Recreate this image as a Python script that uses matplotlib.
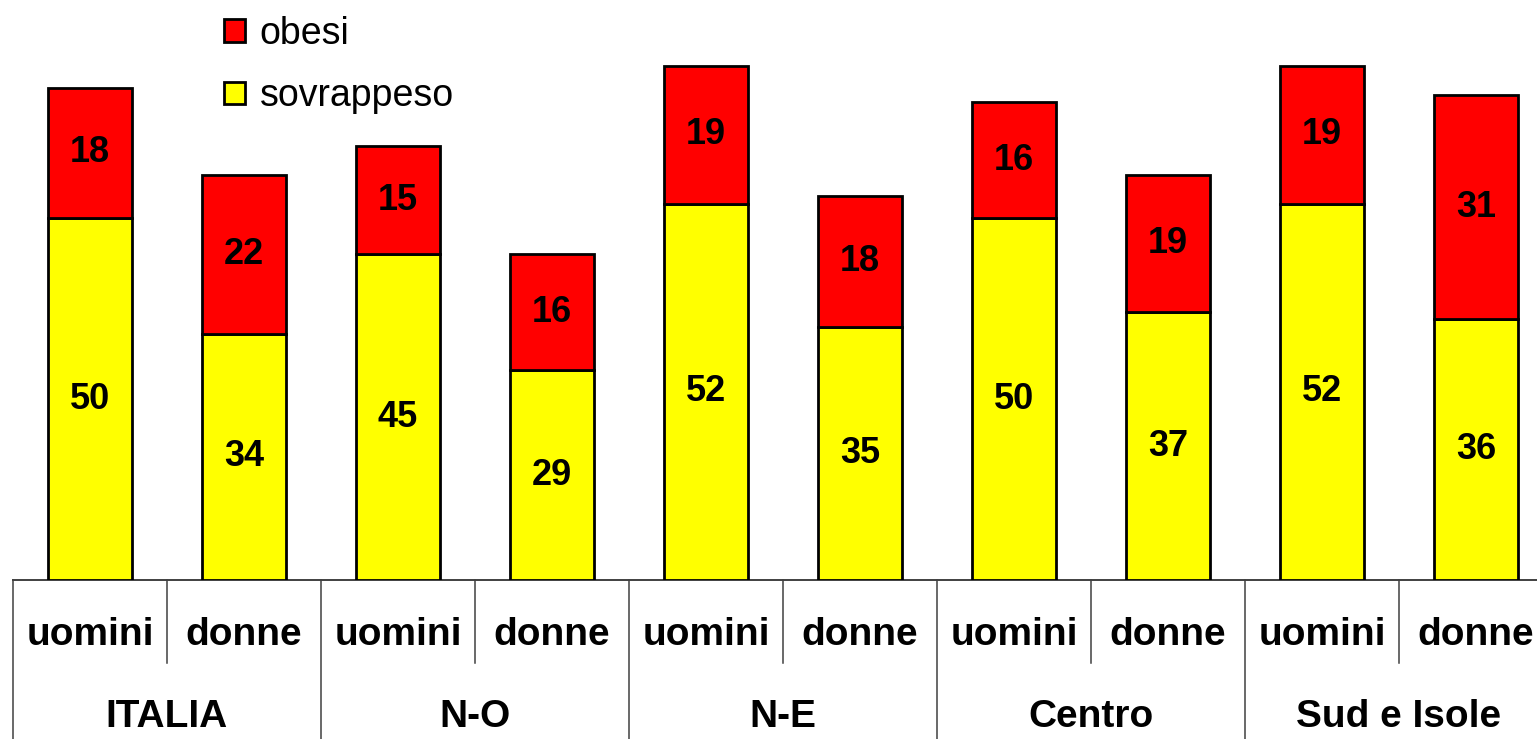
import numpy as np
import matplotlib.pyplot as plt
from matplotlib.patches import Patch

plt.rcParams['font.family'] = ['Liberation Sans', 'DejaVu Sans']

# data
groups = ['ITALIA', 'N-O', 'N-E', 'Centro', 'Sud e Isole']
sexes = ['uomini', 'donne']
sovrappeso = [50, 34, 45, 29, 52, 35, 50, 37, 52, 36]
obesi = [18, 22, 15, 16, 19, 18, 16, 19, 19, 31]

W, H = 1537, 739
fig = plt.figure(figsize=(W / 100, H / 100), dpi=100)
# axes run a bit past the right edge, like the original slide
left, right, bottom, top = 13, 1553, 580, 1
ax = fig.add_axes([left / W, (H - bottom) / H, (right - left) / W, (bottom - top) / H])

x = np.arange(len(sovrappeso))
bw = 0.55
ax.bar(x, sovrappeso, bw, color='#ffff00', edgecolor='black', linewidth=2, zorder=3)
ax.bar(x, obesi, bw, bottom=sovrappeso, color='#ff0000', edgecolor='black', linewidth=2, zorder=3)

for xi, s, o in zip(x, sovrappeso, obesi):
    ax.text(xi, s / 2, str(s), ha='center', va='center', fontsize=26, fontweight='bold')
    ax.text(xi, s + o / 2, str(o), ha='center', va='center', fontsize=26, fontweight='bold')

ax.set_xlim(-0.5, len(x) - 0.5)
ax.set_ylim(0, 80)
ax.set_xticks([])
ax.set_yticks([])
for sp in ['top', 'right', 'left']:
    ax.spines[sp].set_visible(False)
ax.spines['bottom'].set_color('#404040')
ax.spines['bottom'].set_linewidth(1.4)

# two-level category axis drawn by hand
trans = ax.get_xaxis_transform()
y_sex = -(635 - bottom) / (bottom - top)
y_grp = -(717 - bottom) / (bottom - top)
y_short = -(663 - bottom) / (bottom - top)
y_long = -(H - bottom + 5) / (bottom - top)
for i, xi in enumerate(x):
    ax.text(xi, y_sex, sexes[i % 2], transform=trans, ha='center', va='center',
            fontsize=28, fontweight='bold')
for g, name in enumerate(groups):
    ax.text(2 * g + 0.5, y_grp, name, transform=trans, ha='center', va='center',
            fontsize=28, fontweight='bold')
    ax.plot([2 * g + 0.5] * 2, [0, y_short], transform=trans, color='#404040',
            lw=1.1, clip_on=False)
for g in range(len(groups) + 1):
    ax.plot([2 * g - 0.5] * 2, [0, y_long], transform=trans, color='#404040',
            lw=1.1, clip_on=False)

handles = [Patch(facecolor='#ff0000', edgecolor='black', lw=2),
           Patch(facecolor='#ffff00', edgecolor='black', lw=2)]
ax.legend(handles, ['obesi', 'sovrappeso'], loc='upper left',
          bbox_to_anchor=((209 - left) / (right - left), 1.0), frameon=False,
          fontsize=27, handlelength=0.55, handleheight=0.55, handletextpad=0.4,
          labelspacing=0.7, borderaxespad=0)

fig.savefig('out.png', dpi=100)
